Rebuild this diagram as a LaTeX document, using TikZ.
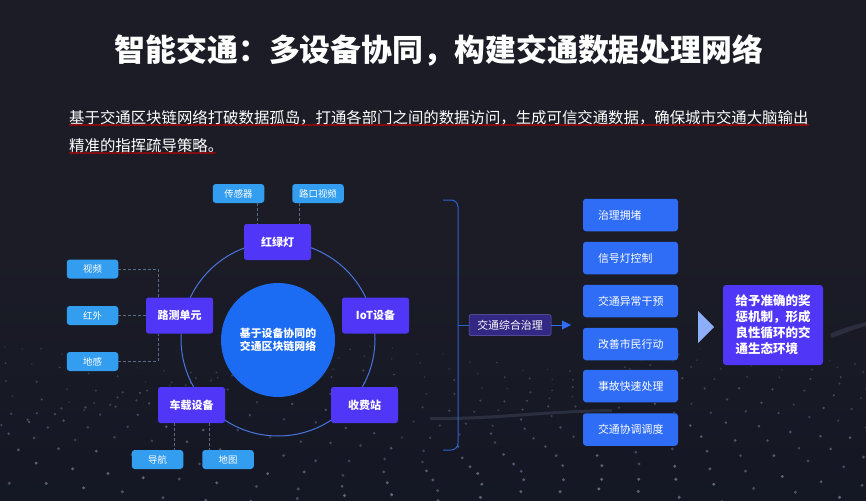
\documentclass[tikz,border=0pt]{standalone}
\usepackage{fontspec}
\setmainfont{Noto Sans CJK SC}
\usetikzlibrary{decorations.pathmorphing,arrows.meta}
\definecolor{bgtop}{HTML}{1B1C26}
\definecolor{bgbot}{HTML}{141724}
\definecolor{hub}{HTML}{5036F6}
\definecolor{leaf}{HTML}{339DF0}
\definecolor{act}{HTML}{2F6DF6}
\definecolor{core}{HTML}{1C6BF3}
\definecolor{ringc}{HTML}{4A74DC}
\definecolor{dashc}{HTML}{5A6E8C}
\definecolor{dotc}{HTML}{8089A8}
\definecolor{brk}{HTML}{2C62D0}
\tikzset{
  x=1pt,y=-1pt,
  hubbox/.style={draw=none,fill=hub,rounded corners=2.5pt,minimum width=67pt,minimum height=36pt,inner sep=0pt,text=white,font=\fontsize{11}{13}\selectfont\bfseries},
  leafbox/.style={draw=none,fill=leaf,rounded corners=3pt,minimum width=51.5pt,minimum height=19pt,inner sep=0pt,text=white,font=\fontsize{9.4}{11}\selectfont},
  actbox/.style={draw=none,fill=act,rounded corners=3pt,minimum width=95pt,minimum height=32.5pt,inner sep=0pt,text=white,font=\fontsize{10.9}{13}\selectfont},
  dashlink/.style={draw=dashc,line width=.7pt,dash pattern=on 3pt off 2pt},
  wavy/.style={draw=red!75!black,line width=.8pt,decorate,decoration={snake,amplitude=.7pt,segment length=3pt}},
}
\newcommand{\actlabel}[1]{\makebox[95pt][l]{\hspace{15pt}#1}}
\begin{document}
\begin{tikzpicture}
\useasboundingbox (0,0) rectangle (866,500);
\fill[top color=bgtop,bottom color=bgbot,middle color=bgtop] (0,0) rectangle (866,500);
% dotted ground
\begin{scope}
\clip (0,0) rectangle (866,500);
\pgfmathsetseed{17}
\foreach \r in {0,...,12}{
  \pgfmathsetmacro{\t}{\r/12}
  \pgfmathsetmacro{\yb}{358+142*pow(\t,1.15)}
  \pgfmathsetmacro{\gap}{22+22*\t}
  \foreach \c in {-24,...,24}{
    \pgfmathsetmacro{\px}{470+\c*\gap+12*sin(\r*40+\c*25)}
    \pgfmathsetmacro{\py}{\yb+12*sin(\c*22+\r*18)+5*rnd}
    \pgfmathsetmacro{\mixv}{int(12+36*\t+26*rnd)}
    \fill[dotc!\mixv!bgbot] (\px,\py) circle ({1.0+0.7*\t});
  }
}
\end{scope}
\fill[dotc!20!bgbot] (430,417) .. controls (490,418) and (540,410) .. (612,409) -- (612,412) .. controls (540,413) and (490,421) .. (430,420) -- cycle;
\fill[dotc!20!bgbot] (830,334) .. controls (842,328) and (855,325) .. (866,322) -- (866,326) .. controls (855,329) and (842,334) .. (832,338) -- cycle;
% heading
\node[text=white,font=\fontsize{30.9}{36}\selectfont\bfseries,inner sep=0pt] (title) at (439,50) {智能交通：多设备协同，构建交通数据处理网络};
\node[anchor=west,text=white,font=\fontsize{15.4}{18}\selectfont,inner sep=0pt] (lineone) at (69,118) {基于交通区块链网络打破数据孤岛，打通各部门之间的数据访问，生成可信交通数据，确保城市交通大脑输出};
\node[anchor=west,text=white,font=\fontsize{15.4}{18}\selectfont,inner sep=0pt] (linetwo) at (69,146) {精准的指挥疏导策略。};
\draw[wavy] (69,125) -- (809,125);
\draw[wavy] (69,153) -- (216,153);
% ring and centre
\coordinate (ringc) at (278,339);
\draw[ringc,line width=1pt] (ringc) circle (97);
\node[circle,fill=core,minimum size=114pt,inner sep=0pt,text=white,align=center,font=\fontsize{10.9}{13.2}\selectfont\bfseries] (core) at (278,340) {基于设备协同的\\交通区块链网络};
% hubs
\node[hubbox] (light) at (277.5,242) {红绿灯};
\node[hubbox] (iot) at (375.5,315.5) {IoT设备};
\node[hubbox] (road) at (179.5,315.5) {路测单元};
\node[hubbox] (car) at (191.5,405) {车载设备};
\node[hubbox] (toll) at (364.5,405) {收费站};
% leaves
\node[leafbox] (sensor) at (238.5,193.5) {传感器};
\node[leafbox] (cross) at (318,193.5) {路口视频};
\node[leafbox] (video) at (92.5,269) {视频};
\node[leafbox] (infra) at (92.5,315.5) {红外};
\node[leafbox] (ground) at (92.5,361.5) {地感};
\node[leafbox] (nav) at (157.5,459.5) {导航};
\node[leafbox] (map) at (228,459.5) {地图};
% dashed links
\coordinate (xa) at (257,0);
\coordinate (xb) at (299,0);
\coordinate (xc) at (158,0);
\coordinate (xd) at (174,0);
\coordinate (xe) at (209,0);
\draw[dashlink] (xa |- sensor.south) -- (xa |- light.north);
\draw[dashlink] (xb |- cross.south) -- (xb |- light.north);
\draw[dashlink] (video.east) -| (xc |- road.north);
\draw[dashlink] (infra.east) -- (road.west);
\draw[dashlink] (ground.east) -| (xc |- road.south);
\draw[dashlink] (xd |- car.south) -- (xd |- nav.north);
\draw[dashlink] (xe |- car.south) -- (xe |- map.north);
% bracket
\coordinate (btop) at (443,200);
\coordinate (bbot) at (443,450);
\coordinate (bmid) at (458,325);
\draw[brk,line width=1pt,rounded corners=7pt] (btop) -- (458,200) -- (458,450) -- (bbot);
\node[fill=hub!45!bgtop,draw=hub!45!gray,line width=.5pt,rounded corners=2pt,minimum width=82pt,minimum height=21pt,inner sep=0pt,text=white,font=\fontsize{10.9}{13}\selectfont] (govern) at (510,325) {交通综合治理};
\draw[brk,line width=1pt] (bmid) -- (govern.west);
\coordinate (arrowend) at (571,325);
\draw[act,line width=1pt,-{Triangle[length=9pt,width=9pt]}] (govern.east) -- (arrowend);
% actions
\node[actbox] (a1) at (630.5,215) {\actlabel{治理拥堵}};
\node[actbox] (a2) at (630.5,258) {\actlabel{信号灯控制}};
\node[actbox] (a3) at (630.5,301) {\actlabel{交通异常干预}};
\node[actbox] (a4) at (630.5,344) {\actlabel{改善市民行动}};
\node[actbox] (a5) at (630.5,386) {\actlabel{事故快速处理}};
\node[actbox] (a6) at (630.5,429.5) {\actlabel{交通协调调度}};
\fill[act!55!white] (698,311) -- (714,327) -- (698,343) -- cycle;
\node[fill=hub,rounded corners=3pt,minimum width=100pt,minimum height=80pt,inner sep=0pt,text=white,align=left,font=\fontsize{12.5}{16}\selectfont\bfseries] (result) at (773,325) {给予准确的奖\\惩机制，形成\\良性循环的交\\通生态环境};
\end{tikzpicture}
\end{document}
